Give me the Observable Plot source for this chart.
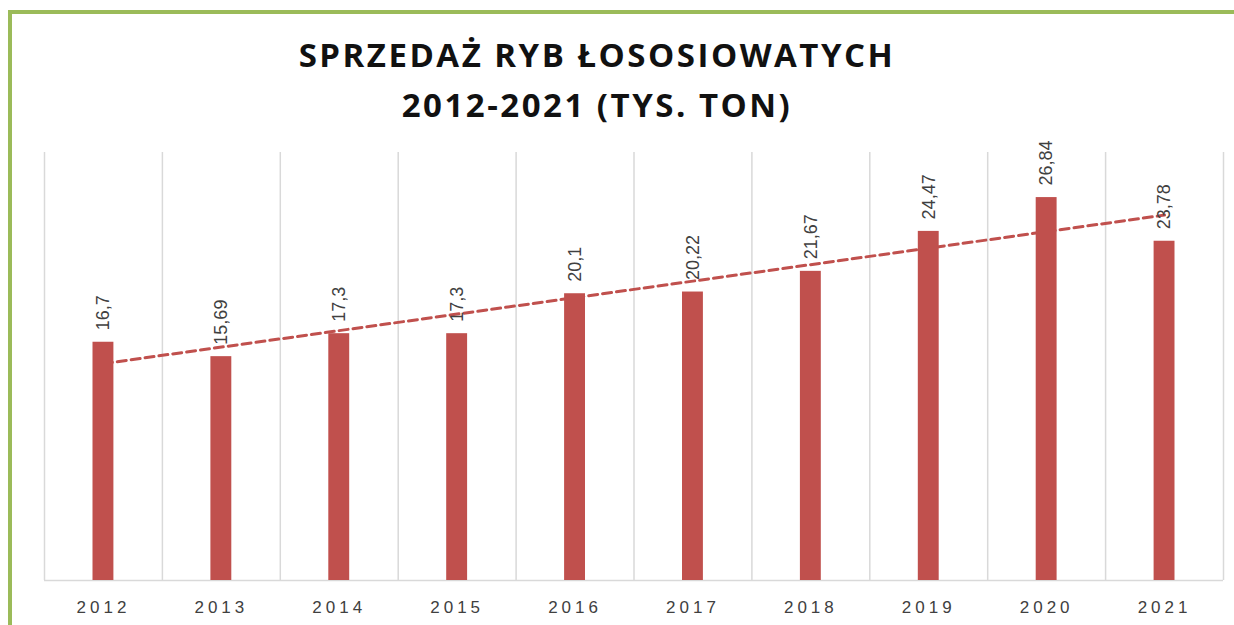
<!DOCTYPE html>
<html>
<head>
<meta charset="utf-8">
<script src="https://cdn.jsdelivr.net/npm/d3@7"></script>
<script src="https://cdn.jsdelivr.net/npm/@observablehq/plot@0.6"></script>
<style>
  html, body { margin: 0; padding: 0; background: #fff; }
  #wrap { position: relative; width: 1234px; height: 625px; overflow: hidden; background: #fff; }
  #border { position: absolute; left: 8px; top: 10px; width: 1240px; height: 700px; border-left: 4px solid #9bbb59; border-top: 4px solid #9bbb59; box-sizing: border-box; }
  #title { position: absolute; left: 0; top: 30px; width: 1194px; text-align: center; font-family: "Open Sans", sans-serif; font-weight: 700; font-size: 33px; letter-spacing: 2.5px; line-height: 50px; color: #111; }
  #chart { position: absolute; left: 0; top: 140px; }
</style>
</head>
<body>
<div id="wrap">
  <div id="border"></div>
  <div id="title">SPRZEDAŻ RYB ŁOSOSIOWATYCH<br>2012-2021 (TYS. TON)</div>
  <div id="chart"></div>
</div>
<script>
const years = [2012, 2013, 2014, 2015, 2016, 2017, 2018, 2019, 2020, 2021];
const values = [16.7, 15.69, 17.3, 17.3, 20.1, 20.22, 21.67, 24.47, 26.84, 23.78];
const valueLabels = ["16,7", "15,69", "17,3", "17,3", "20,1", "20,22", "21,67", "24,47", "26,84", "23,78"];

const data = years.map((year, i) => ({year, value: values[i], label: valueLabels[i]}));
const boundaries = [...years.map(y => y - 0.5), years[years.length - 1] + 0.5];

const red = "#c0504d";
const chart = Plot.plot({
  width: 1234,
  height: 485,
  marginLeft: 44,
  marginRight: 11,
  marginTop: 12,
  marginBottom: 45,
  style: {fontFamily: "'Liberation Sans', Arial, sans-serif", background: "transparent"},
  x: {domain: [years[0] - 0.5, years[years.length - 1] + 0.5], ticks: years, tickFormat: d => String(d), tickSize: 0, tickPadding: 20, label: null},
  y: {domain: [0, 30], axis: null},
  marks: [
    Plot.ruleX(boundaries, {stroke: "#d9d9d9", strokeWidth: 1.5}),
    Plot.ruleY([0], {stroke: "#d9d9d9", strokeWidth: 1.5}),
    Plot.linearRegressionY(data, {x: "year", y: "value", ci: 0, stroke: red, strokeWidth: 3, strokeDasharray: "9,5"}),
    Plot.rectY(data, {x1: d => d.year - 0.5, x2: d => d.year + 0.5, y: "value", fill: red, insetLeft: 48.5, insetRight: 48.5}),
    Plot.text(data, {x: "year", y: "value", text: "label", rotate: -90, textAnchor: "start", lineAnchor: "middle", dy: -12, fontSize: 18, fill: "#404040"})
  ]
});
d3.select(chart).selectAll("g[aria-label='x-axis tick label'] text, g[aria-label='x-axis tick label']")
  .attr("font-size", 17).style("letter-spacing", "4px").attr("fill", "#404040");
document.getElementById("chart").appendChild(chart);
</script>
</body>
</html>
